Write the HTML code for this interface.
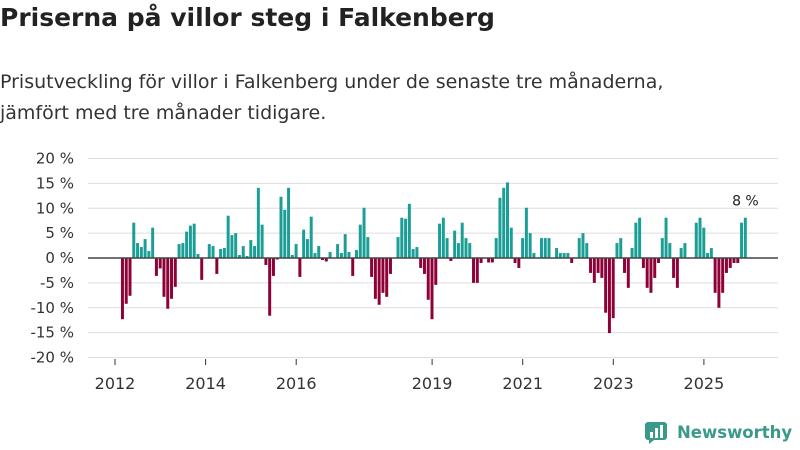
<!DOCTYPE html>
<html><head><meta charset="utf-8"><style>
body{margin:0;width:800px;height:450px;background:#fff;font-family:"DejaVu Sans","Liberation Sans",sans-serif;overflow:hidden;position:relative}
h1{position:absolute;left:0;top:3px;margin:0;font-size:25px;font-weight:bold;color:#222;white-space:nowrap}
p{position:absolute;left:0;top:67px;margin:0;font-size:19px;line-height:31px;color:#333;width:800px;white-space:nowrap}
</style></head><body>
<h1>Priserna på villor steg i Falkenberg</h1>
<p>Prisutveckling för villor i Falkenberg under de senaste tre månaderna,<br>jämfört med tre månader tidigare.</p>
<svg id="c" width="800" height="450" style="position:absolute;left:0;top:0"></svg>
<div style="position:absolute;left:645px;top:420px;display:flex;align-items:center;color:#3a9a8a;font-weight:bold;font-size:16.5px">
<svg width="26" height="24"><rect x="0" y="2" width="22" height="18" rx="3" fill="#3a9a8a"/><polygon points="4,20 4,24 9,20" fill="#3a9a8a"/><rect x="5" y="12" width="3" height="6" fill="#fff"/><rect x="10" y="8" width="3" height="10" fill="#fff"/><rect x="15" y="5" width="3" height="13" fill="#fff"/></svg>
<span style="margin-left:6px">Newsworthy</span></div>
<script>
const values=[-12.3,-9.2,-7.6,7.1,3.0,2.2,3.8,1.4,6.1,-3.6,-2.1,-7.8,-10.2,-8.2,-5.8,2.8,3.0,5.3,6.5,6.9,0.8,-4.4,0,2.8,2.4,-3.2,1.8,2.0,8.5,4.6,5.0,0.6,2.4,0.4,3.6,2.4,14.1,6.7,-1.4,-11.6,
-3.6,-0.3,12.3,9.7,14.1,0.6,2.8,-3.8,5.7,3.8,8.3,1.0,2.4,-0.4,-0.7,1.2,0,2.8,1.0,4.8,1.2,-3.6,1.6,6.7,10.1,4.2,-3.8,-8.2,-9.4,-7.0,-7.8,-3.2,0,4.2,8.1,7.9,10.9,1.8,2.2,-2.0,-3.2,-8.4,
-12.3,-5.4,6.9,8.1,4.0,-0.6,5.5,3.0,7.1,4.0,3.0,-5.0,-5.0,-1.0,0,-0.9,-0.9,4.0,12.1,14.1,15.2,6.1,-1.0,-2.0,4.0,10.1,5.0,1.0,0,4.0,4.0,4.0,0,2.0,1.0,1.0,1.0,-1.0,0,4.0,5.0,3.0,
-3,-5,-3,-4,-11,-15.1,-12.1,3,4,-3,-6,2,7.1,8.1,-2,-6,-7,-4,-1,4,8.1,3,-4,-6,2,3,0,0,7.1,8.1,6.1,1,2,-7,-10,-7,-3,-2,-1,-1,7.1,8.1];
const yTicks=[20,15,10,5,0,-5,-10,-15,-20];
const xYears=[2012,2014,2016,2019,2021,2023,2025];
const startYear=2012, startMonth=2;
const lastLabel="8 %";
const svg=document.getElementById('c');
const NS='http://www.w3.org/2000/svg';
const y=v=>258-v*4.975;
const yearX=yr=>115+(yr-2012)*45.3;
const barX=i=>yearX(startYear+(startMonth+i)/12);
function mk(t,a){const e=document.createElementNS(NS,t);for(const k in a)e.setAttribute(k,a[k]);svg.appendChild(e);return e;}
yTicks.forEach(t=>{
 const g=mk('line',{x1:88,x2:778,y1:y(t),y2:y(t),stroke:'#ddd','stroke-width':1});
 
 
 const l=mk('text',{x:74,y:y(t)+5,'text-anchor':'end','font-size':15,fill:'#333'});
 l.textContent=t+' %';
 
 
});
const step=45.3/12;
values.forEach((v,i)=>{
 const x=barX(i)-step/2;
 const r=mk('rect',{x:x+0.3,width:step-0.8,y:Math.min(y(v),y(0)),height:Math.abs(y(v)-y(0)),fill:v>=0?'#1a9e96':'#8e0038'});
 
 
});
const z=mk('line',{x1:88,x2:778,y1:y(0),y2:y(0),stroke:'#444','stroke-width':1.5});


xYears.forEach(yr=>{
 const tk=mk('line',{x1:yearX(yr),x2:yearX(yr),y1:359,y2:365,stroke:'#333','stroke-width':1});
 
 
 const l=mk('text',{x:yearX(yr),y:389,'text-anchor':'middle','font-size':16,fill:'#333'});
 l.textContent=yr;
 
 
});
const li=values.length-1;
const ann=mk('text',{x:barX(li),y:y(values[li])-12,'text-anchor':'middle','font-size':14,fill:'#222'});
ann.textContent=lastLabel;


</script>
</body></html>
